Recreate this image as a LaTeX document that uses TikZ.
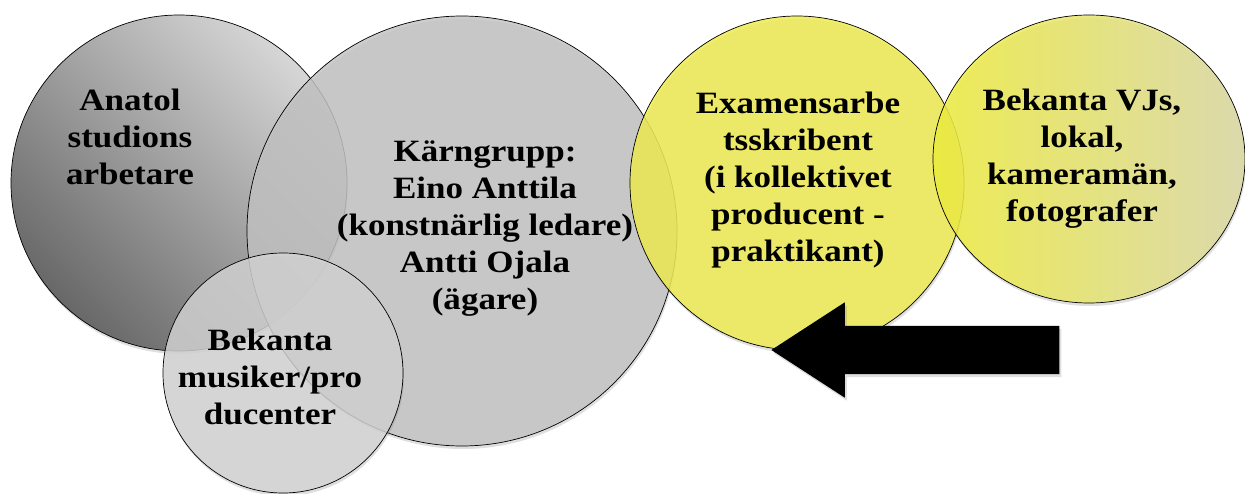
\documentclass[tikz,border=0pt]{standalone}
\usepackage{fontspec}
\setmainfont{Liberation Serif}[FakeStretch=1.13]
\usetikzlibrary{shapes.arrows,shapes.geometric,shadows}
\definecolor{kgray}{HTML}{C2C2C2}
\definecolor{mgray}{HTML}{D4D4D4}
\definecolor{exyel}{HTML}{EEEB52}
\definecolor{vjyelA}{HTML}{F0EE3C}
\definecolor{vjyelB}{HTML}{DCDAA4}
\definecolor{anA}{HTML}{686868}
\definecolor{anB}{HTML}{D6D6D6}
\tikzset{
  circ/.style={circle, draw=black, line width=0.7pt, inner sep=0pt},
  lbl/.style={align=center, font=\fontsize{31}{37}\selectfont\bfseries, inner sep=0pt},
  shad/.style={drop shadow={opacity=0.25, shadow xshift=1pt, shadow yshift=-3pt}}
}
\begin{document}
\begin{tikzpicture}[x=1pt,y=-1pt]
\useasboundingbox (0,0) rectangle (1245,494);
% Anatol
\node[circ, shad, minimum size=336pt, left color=anB, right color=anA, shading angle=-45] (anatol) at (179,183) {};
% Kaerngrupp
\node[circ, shad, minimum size=430pt, fill=kgray, fill opacity=0.82] (karn) at (462,231) {};
% Bekanta musiker
\node[circ, shad, minimum size=240pt, fill=mgray, fill opacity=0.8] (musik) at (283,373) {};
% Examensarbetsskribent
\node[circ, shad, minimum size=334pt, fill=exyel, fill opacity=0.85] (exam) at (797,183) {};
% Bekanta VJs
\node[ellipse, draw=black, line width=0.7pt, inner sep=0pt, minimum width=312pt, minimum height=288pt,
  shad, left color=vjyelA, right color=vjyelB, fill opacity=0.85] (vj) at (1089,159) {};
% Arrow
\node[single arrow, fill=black, inner xsep=0pt, inner ysep=24pt, minimum height=288pt, minimum width=95pt,
  single arrow head extend=23.5pt, single arrow tip angle=66, shape border rotate=180,
  drop shadow={opacity=0.25, shadow xshift=2pt, shadow yshift=-3pt}] (arrow) at (934,350) {};
% Labels
\node[lbl] (tA) at (130,137) {Anatol\\studions\\arbetare};
\node[lbl] (tK) at (485,229) {Kärngrupp:\\Eino Anttila\\(konstnärlig ledare)\\Antti Ojala\\(ägare)};
\node[lbl] (tM) at (270,377) {Bekanta\\musiker/pro\\ducenter};
\node[lbl] (tE) at (798,180) {Examensarbe\\tsskribent\\(i kollektivet\\producent -\\praktikant)};
\node[lbl] (tV) at (1082,159) {Bekanta VJs,\\lokal,\\kameramän,\\fotografer};
\end{tikzpicture}
\end{document}
